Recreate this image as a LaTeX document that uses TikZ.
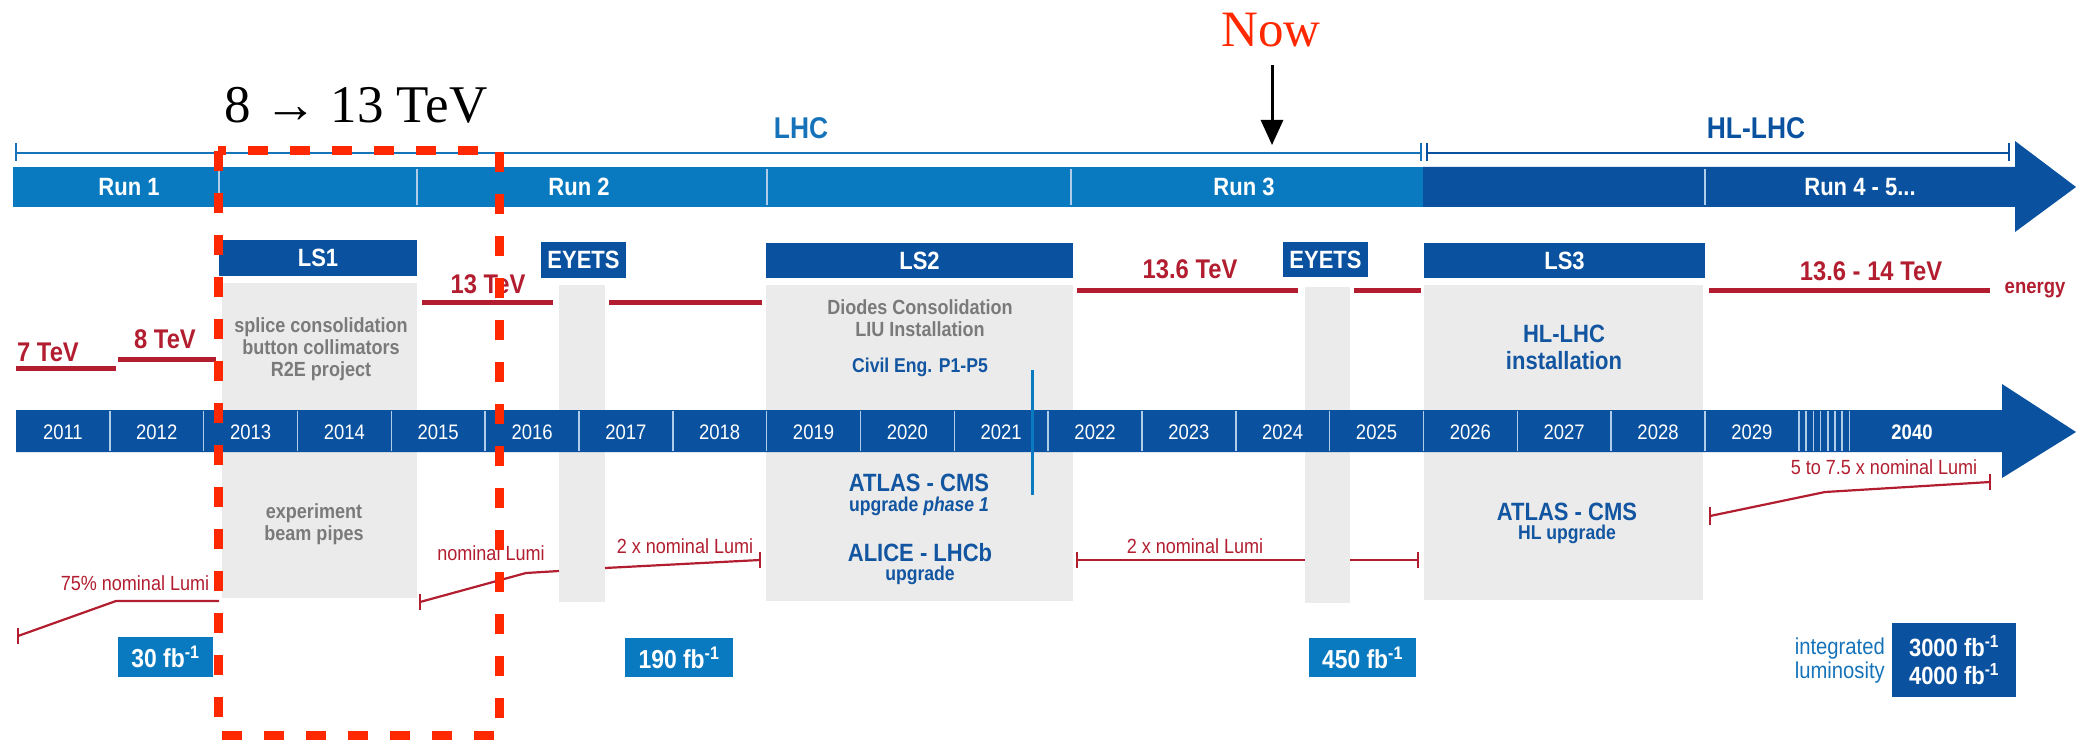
\documentclass[tikz,border=0pt]{standalone}
\usepackage{fontspec}
\setmainfont{Liberation Sans}
\newfontfamily\cond[FakeStretch=0.88]{Liberation Sans}
\newfontfamily\tms{Liberation Serif}
\usetikzlibrary{arrows.meta}
\definecolor{runblue}{RGB}{10,122,192}
\definecolor{dkblue}{RGB}{10,82,160}
\definecolor{enred}{RGB}{178,30,48}
\definecolor{greybg}{RGB}{235,235,235}
\definecolor{greytxt}{RGB}{122,122,122}
\definecolor{txtblue}{RGB}{18,85,160}
\definecolor{lhcblue}{RGB}{22,115,185}
\definecolor{hotred}{RGB}{255,40,0}
\definecolor{divline}{RGB}{175,205,232}
\newcommand\myfs[2]{\fontsize{#1}{#2}\selectfont}
\begin{document}
\begin{tikzpicture}[x=1pt,y=-1pt,
  lsbox/.style={fill=dkblue, text=white, inner sep=0pt, font=\cond\bfseries\myfs{25}{27}},
  fbbox/.style={fill=runblue, text=white, inner sep=0pt, font=\cond\bfseries\myfs{26}{28}},
  runlbl/.style={text=white, inner sep=0pt, font=\cond\bfseries\myfs{25}{27}},
  yrlbl/.style={text=white, inner sep=0pt, font=\cond\myfs{21}{23}},
  gtxt/.style={text=greytxt, inner sep=0pt, align=center, font=\cond\bfseries\myfs{20.5}{22}},
  btxt/.style={text=txtblue, inner sep=0pt, align=center, font=\cond\bfseries\myfs{25}{27}},
  bsub/.style={text=txtblue, inner sep=0pt, align=center, font=\cond\bfseries\myfs{20}{22}},
  etxt/.style={text=enred, inner sep=0pt, anchor=base, font=\cond\bfseries\myfs{27}{29}},
  ltxt/.style={text=enred, inner sep=0pt, anchor=base, font=\cond\myfs{20.5}{22}},
  eline/.style={draw=enred, line width=5pt},
  lline/.style={draw=enred, line width=2.2pt},
  spanline/.style={draw=lhcblue, line width=2pt},
  divider/.style={draw=divline, line width=1.5pt},
]
\useasboundingbox (0,0) rectangle (2076,743);

% LHC / HL-LHC span lines
\draw[spanline] (16,153) -- (1421,153);
\draw[spanline] (16,143) -- (16,161);
\draw[spanline] (1421,143) -- (1421,161);
\draw[spanline, draw=dkblue] (1427,153) -- (2009,153);
\draw[spanline, draw=dkblue] (1427,143) -- (1427,161);
\draw[spanline, draw=dkblue] (2009,143) -- (2009,161);
\node[text=lhcblue, inner sep=0pt, font=\cond\bfseries\myfs{30}{32}] (lhc) at (801,128) {LHC};
\node[text=dkblue, inner sep=0pt, font=\cond\bfseries\myfs{30}{32}] (hllhc) at (1756,128) {HL-LHC};

% Run bar
\fill[runblue] (13,167) rectangle (1423,207);
\fill[dkblue] (1423,167) -- (2015,167) -- (2015,141) -- (2076,187) -- (2015,232) -- (2015,207) -- (1423,207) -- cycle;
\foreach \x in {219,417,767,1071,1705} \draw[divider] (\x,169) -- (\x,205);
\node[runlbl] (run1) at (129,187) {Run 1};
\node[runlbl] (run2) at (579,187) {Run 2};
\node[runlbl] (run3) at (1244,187) {Run 3};
\node[runlbl] (run45) at (1860,187) {Run 4 - 5...};

% grey shutdown areas
\fill[greybg] (222,283) rectangle (417,598);
\fill[greybg] (559,285) rectangle (605,602);
\fill[greybg] (766,285) rectangle (1073,601);
\fill[greybg] (1305,287) rectangle (1350,603);
\fill[greybg] (1424,285) rectangle (1703,600);

% shutdown header boxes
\node[lsbox, minimum width=198pt, minimum height=36pt] (ls1) at (318,258) {LS1};
\node[lsbox, minimum width=85pt, minimum height=36pt] (eyets1) at (583.5,260) {EYETS};
\node[lsbox, minimum width=307pt, minimum height=35pt] (ls2) at (919.5,260.5) {LS2};
\node[lsbox, minimum width=85pt, minimum height=35pt] (eyets2) at (1325.5,259.5) {EYETS};
\node[lsbox, minimum width=281pt, minimum height=35pt] (ls3) at (1564.5,260.5) {LS3};

% energy lines
\draw[eline] (16,368) -- (116,368);
\draw[eline] (118,359) -- (216,359);
\draw[eline] (422,302) -- (553,302);
\draw[eline] (609,302) -- (762,302);
\draw[eline] (1077,290) -- (1298,290);
\draw[eline] (1354,290) -- (1421,290);
\draw[eline] (1709,290) -- (1990,290);
\node[etxt] (e7) at (48,361) {7 TeV};
\node[etxt] (e8) at (165,348) {8 TeV};
\node[etxt] (e13) at (488,293) {13 TeV};
\node[etxt] (e136) at (1190,279) {13.6 TeV};
\node[etxt] (e14) at (1871,280) {13.6 - 14 TeV};
\node[text=enred, inner sep=0pt, font=\cond\bfseries\myfs{21}{23}] (energy) at (2035,290) {energy};

% texts in shutdown areas
\node[gtxt] (ls1txt) at (321,349) {splice consolidation\\button collimators\\R2E project};
\node[gtxt] (ls1exp) at (314,524) {experiment\\beam pipes};
\node[gtxt] (ls2txt) at (920,318) {Diodes Consolidation\\LIU Installation};
\node[bsub] (civil) at (920,367) {Civil Eng. P1-P5};
\node[btxt] (atlas2) at (919,483) {ATLAS - CMS};
\node[bsub] (phase1) at (919,506) {upgrade \textit{phase 1}};
\node[btxt] (alice) at (920,553) {ALICE - LHCb};
\node[bsub] (upg) at (920,575) {upgrade};
\node[btxt] (hlinst) at (1564,347) {HL-LHC\\installation};
\node[btxt] (atlas3) at (1567,512) {ATLAS - CMS};
\node[bsub] (hlupg) at (1567,534) {HL upgrade};

% year bar
\fill[dkblue] (16,410) -- (2002,410) -- (2002,384) -- (2076,432) -- (2002,478) -- (2002,452) -- (16,452) -- cycle;
\foreach \i in {1,...,19} \draw[divider] ({16+93.83*\i},411) -- ({16+93.83*\i},451);
\foreach \k in {1,...,7} \draw[divider] ({1799+7.2*\k},411) -- ({1799+7.2*\k},451);
\foreach \i in {0,...,18} {
  \pgfmathtruncatemacro\yr{2011+\i}
  \node[yrlbl] (y\yr) at ({16+93.83*\i+46.9},432) {\yr};
}
\node[yrlbl, font=\cond\bfseries\myfs{21}{23}] (y2040) at (1912,432) {2040};

% phase-1 marker
\draw[draw=runblue, line width=3pt] (1032,370) -- (1032,495);

% luminosity lines
\draw[lline] (18,628) -- (18,644);
\draw[lline] (18,636) -- (116,601) -- (219,601);
\draw[lline] (420,594) -- (420,610);
\draw[lline] (420,602) -- (526,573) -- (559,571);
\draw[lline] (605,568) -- (760,560);
\draw[lline] (760,552) -- (760,568);
\draw[lline] (1077,552) -- (1077,568);
\draw[lline] (1077,560) -- (1305,560);
\draw[lline] (1350,560) -- (1418,560);
\draw[lline] (1418,552) -- (1418,568);
\draw[lline] (1710,507) -- (1710,525);
\draw[lline] (1710,516) -- (1825,492) -- (1990,482);
\draw[lline] (1990,474) -- (1990,490);
\node[ltxt] (l1) at (135,590) {75\% nominal Lumi};
\node[ltxt] (l2) at (491,560) {nominal Lumi};
\node[ltxt] (l3) at (685,553) {2 x nominal Lumi};
\node[ltxt] (l4) at (1195,553) {2 x nominal Lumi};
\node[ltxt] (l5) at (1884,474) {5 to 7.5 x nominal Lumi};

% integrated luminosity boxes
\node[fbbox, minimum width=95pt, minimum height=40pt] (fb30) at (165.5,657) {30 fb\textsuperscript{-1}};
\node[fbbox, minimum width=108pt, minimum height=39pt] (fb190) at (679,657.5) {190 fb\textsuperscript{-1}};
\node[fbbox, minimum width=107pt, minimum height=39pt] (fb450) at (1362.5,657.5) {450 fb\textsuperscript{-1}};
\node[fbbox, fill=dkblue, minimum width=124pt, minimum height=74pt, align=center, font=\cond\bfseries\myfs{25}{28}] (fb3000) at (1954,660) {3000 fb\textsuperscript{-1}\\4000 fb\textsuperscript{-1}};
\node[text=lhcblue, inner sep=0pt, align=right, anchor=east, font=\cond\myfs{23}{24}] (intlumi) at (1885,661) {integrated\\luminosity};

% highlight annotations
\draw[hotred, line width=9pt, dash pattern=on 20pt off 22pt] (218,151) rectangle (499,735);
\node[inner sep=0pt, anchor=base, font=\tms\myfs{53}{60}] (jump) at (356,123) {8 → 13 TeV};
\node[inner sep=0pt, anchor=base, text=hotred, font=\tms\myfs{51}{56}] (now) at (1271,47) {Now};
\coordinate (nowtop) at (1272,65);
\coordinate (nowtip) at (1272,145);
\draw[line width=3pt, -{Triangle[length=25pt,width=22pt]}] (nowtop) -- (nowtip);
\end{tikzpicture}
\end{document}
